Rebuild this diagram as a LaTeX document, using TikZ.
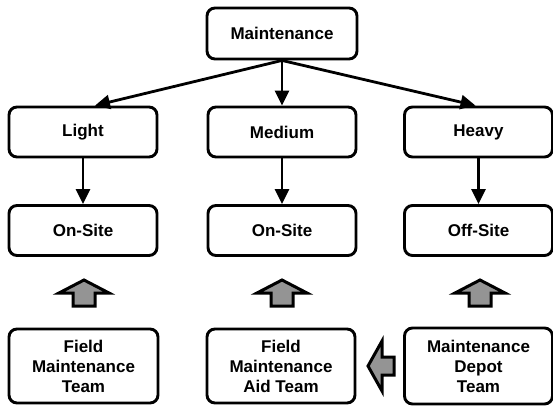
\documentclass[tikz,border=0pt]{standalone}
\usepackage{fontspec}
\setmainfont{Liberation Sans}
\usetikzlibrary{arrows.meta}
\definecolor{arrowgray}{RGB}{148,148,148}
\begin{document}
\begin{tikzpicture}[x=1pt,y=-1pt,
  box/.style={draw=black, line width=2.9pt, rounded corners=8pt, fill=white,
    minimum width=#1, align=center, inner sep=0pt,
    font=\fontsize{17}{20}\selectfont\bfseries},
  box/.default=148pt,
  link/.style={line width=2.8pt, -{Triangle[length=15pt,width=14pt]}},
  blockarrow/.style={draw=black, line width=3pt, line join=miter, fill=arrowgray},
  pics/uparrow/.style={code={
    \path[blockarrow] (0,-13) -- (25,0) -- (11,0) -- (11,13) -- (-11,13) -- (-11,0) -- (-25,0) -- cycle;}},
  pics/leftarrow/.style={code={
    \path[blockarrow] (-13,0) -- (1,-25) -- (1,-9) -- (13,-9) -- (13,9) -- (1,9) -- (1,25) -- cycle;}}
]
\useasboundingbox (0,0) rectangle (553,407);

% top level
\node[box=150pt, minimum height=51pt] (maint) at (282,33.5) {Maintenance};

% maintenance types
\node[box, minimum height=50pt] (light)  at (83,132)    {Light};
\node[box, minimum height=50pt] (medium) at (282,132)   {Medium};
\node[box, minimum height=50pt] (heavy)  at (478.5,132) {Heavy};

% maintenance locations
\node[box, minimum height=50pt] (site1) at (83,230.5)    {On-Site};
\node[box, minimum height=50pt] (site2) at (282,230.5)   {On-Site};
\node[box, minimum height=50pt] (site3) at (478.5,230.5) {Off-Site};

% teams
\node[box=149pt, minimum height=74pt] (team1) at (83.5,366) {Field\\Maintenance\\Team};
\node[box, minimum height=74pt] (team2) at (281,366) {Field\\Maintenance\\Aid Team};
\node[box, minimum height=76pt] (team3) at (478.5,366) {Maintenance\\Depot\\Team};

% connectors
\draw[link] (maint.south) -- ([xshift=12pt]light.north);
\draw[link] (maint.south) -- (medium.north);
\draw[link] (maint.south) -- ([xshift=-3pt]heavy.north);
\draw[link] (light.south)  -- (site1.north);
\draw[link] (medium.south) -- (site2.north);
\draw[link] (heavy.south)  -- (site3.north);

% block arrows between teams and locations
\pic at (84,293)  {uparrow};
\pic at (282,293) {uparrow};
\pic at (480,293) {uparrow};
\pic at (381,366) {leftarrow};
\end{tikzpicture}
\end{document}
